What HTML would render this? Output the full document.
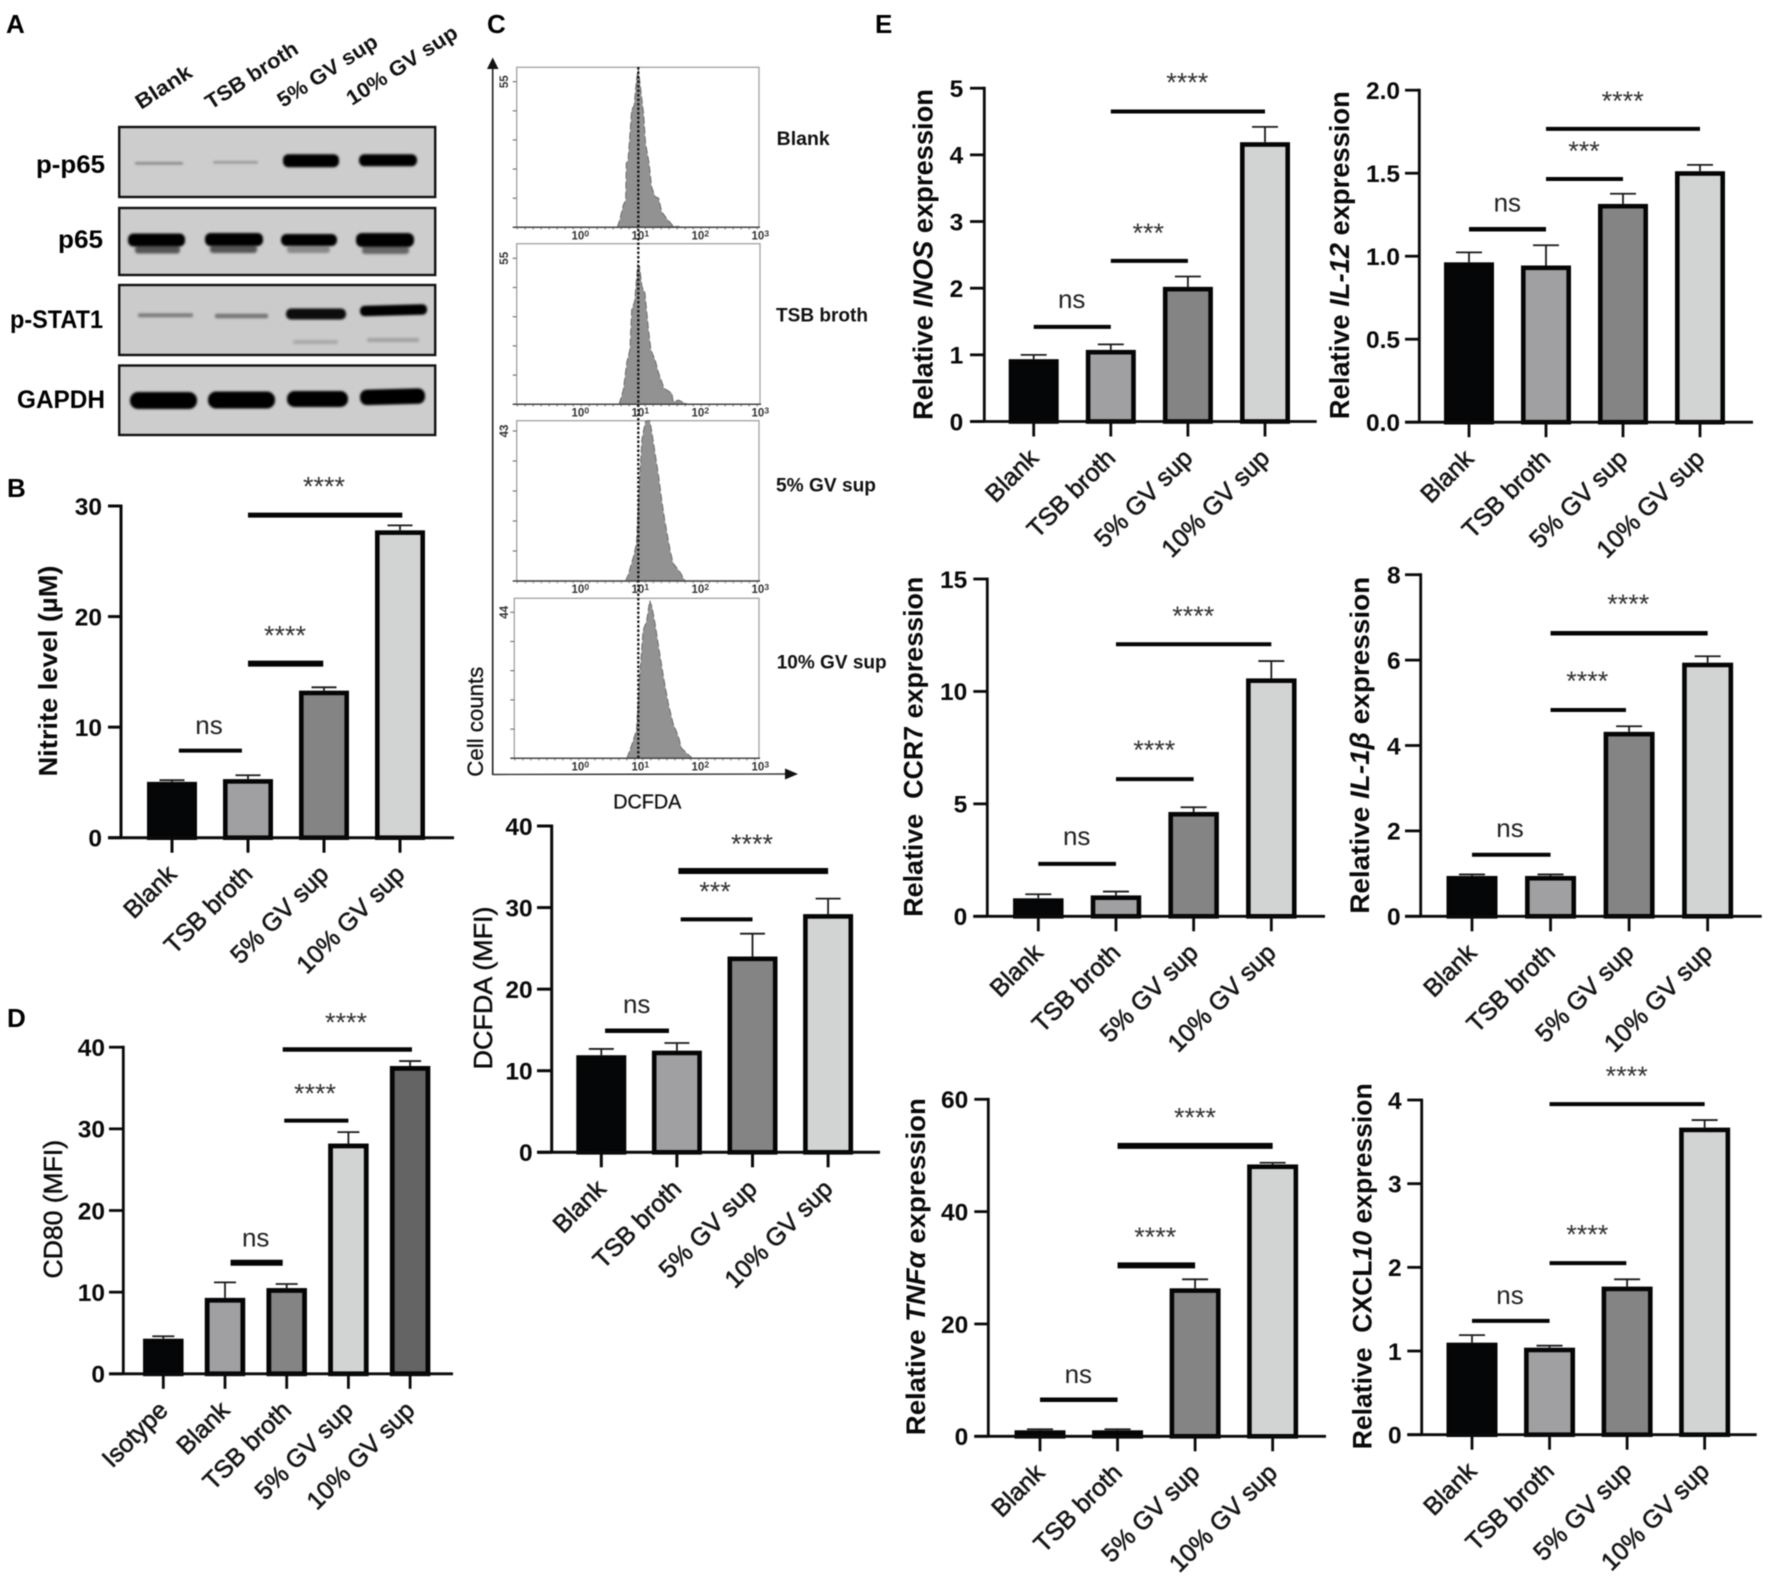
<!DOCTYPE html>
<html lang="en">
<head>
<meta charset="utf-8">
<title>Multi-panel western blot, flow cytometry and bar charts</title>
<style>
html,body{margin:0;padding:0;background:#fff;}
svg{display:block;filter:blur(.5px);}
text{font-family:"Liberation Sans",sans-serif;}
</style>
</head>
<body>
<svg id="figure" xmlns="http://www.w3.org/2000/svg" width="1772" height="1583" viewBox="0 0 1772 1583">
  <defs>
    <filter id="bandBlur" x="-20%" y="-100%" width="140%" height="300%"><feGaussianBlur stdDeviation="1"/></filter>
    <filter id="bandBlurSoft" x="-20%" y="-200%" width="140%" height="500%"><feGaussianBlur stdDeviation="1.4"/></filter>
  </defs>
  <rect width="1772" height="1583" fill="#fff"/>

  <g font-size="26" font-weight="700" fill="#000">
    <text x="6" y="33">A</text>
    <text x="7" y="497">B</text>
    <text x="487" y="33">C</text>
    <text x="7" y="1027">D</text>
    <text x="875" y="33">E</text>
  </g>

  <g>
    <g font-size="21" font-weight="700" fill="#111">
      <text transform="translate(141 110) rotate(-33)" textLength="63" lengthAdjust="spacingAndGlyphs">Blank</text>
      <text transform="translate(211 110) rotate(-33)" textLength="106" lengthAdjust="spacingAndGlyphs">TSB broth</text>
      <text transform="translate(283 108) rotate(-33)" textLength="115" lengthAdjust="spacingAndGlyphs">5% GV sup</text>
      <text transform="translate(352 106) rotate(-33)" textLength="128" lengthAdjust="spacingAndGlyphs">10% GV sup</text>
    </g>
    <g font-size="25" font-weight="700" fill="#000" text-anchor="end">
      <text x="105" y="173" textLength="69" lengthAdjust="spacingAndGlyphs">p-p65</text>
      <text x="103" y="248" textLength="45" lengthAdjust="spacingAndGlyphs">p65</text>
      <text x="103" y="328" textLength="93" lengthAdjust="spacingAndGlyphs">p-STAT1</text>
      <text x="105" y="408" textLength="88" lengthAdjust="spacingAndGlyphs">GAPDH</text>
    </g>
    <g>
      <rect x="119.2" y="127" width="316" height="70" fill="#cdcdcd" stroke="#111" stroke-width="2.4"/>
      <rect x="135" y="162" width="48" height="2.6" rx="1" fill="#8a8a8a" filter="url(#bandBlur)"/>
      <rect x="213" y="161" width="45" height="2.6" rx="1" fill="#999" filter="url(#bandBlur)"/>
      <rect x="283" y="154.2" width="56" height="13" rx="5.5" fill="#050505" filter="url(#bandBlur)"/>
      <rect x="359" y="154.3" width="58" height="12" rx="5.5" fill="#050505" filter="url(#bandBlur)"/>
    </g>
    <g>
      <rect x="119.2" y="208" width="316" height="67" fill="#cdcdcd" stroke="#111" stroke-width="2.4"/>
      <rect x="135" y="245.5" width="45" height="8" rx="3" fill="#555" filter="url(#bandBlurSoft)"/>
      <rect x="210" y="245" width="47" height="8" rx="3" fill="#555" filter="url(#bandBlurSoft)"/>
      <rect x="287" y="246" width="43" height="7" rx="3" fill="#888" filter="url(#bandBlurSoft)"/>
      <rect x="362" y="246" width="47" height="8" rx="3" fill="#666" filter="url(#bandBlurSoft)"/>
      <rect x="128" y="233.5" width="57" height="13" rx="5.5" fill="#050505" filter="url(#bandBlur)"/>
      <rect x="205" y="233" width="58" height="13" rx="5.5" fill="#050505" filter="url(#bandBlur)"/>
      <rect x="281" y="234" width="56" height="12" rx="5.5" fill="#050505" filter="url(#bandBlur)"/>
      <rect x="356" y="233" width="58" height="14" rx="6" fill="#050505" filter="url(#bandBlur)"/>
    </g>
    <g>
      <rect x="119.2" y="285" width="316" height="70" fill="#cbcbcb" stroke="#111" stroke-width="2.4"/>
      <rect x="138" y="313.3" width="55" height="4" rx="1.5" fill="#7e7e7e" filter="url(#bandBlur)"/>
      <rect x="215" y="313.7" width="53" height="4.5" rx="1.5" fill="#777" filter="url(#bandBlur)"/>
      <rect x="286" y="308.5" width="60" height="11" rx="5" fill="#0a0a0a" filter="url(#bandBlur)"/>
      <rect x="360" y="305" width="67" height="10.5" rx="4.5" fill="#000" filter="url(#bandBlur)" transform="rotate(-1.5 393 310)"/>
      <rect x="293" y="340" width="45" height="4" rx="1.5" fill="#a8a8a8" filter="url(#bandBlurSoft)"/>
      <rect x="367" y="338" width="52" height="4" rx="1.5" fill="#a0a0a0" filter="url(#bandBlurSoft)"/>
    </g>
    <g>
      <rect x="119.2" y="365.5" width="316" height="69.5" fill="#cdcdcd" stroke="#111" stroke-width="2.4"/>
      <rect x="130" y="392" width="67" height="17" rx="8" fill="#050505" filter="url(#bandBlur)"/>
      <rect x="208" y="391.5" width="67" height="17" rx="8" fill="#050505" filter="url(#bandBlur)"/>
      <rect x="287" y="391" width="61" height="16" rx="7.5" fill="#050505" filter="url(#bandBlur)"/>
      <rect x="360" y="389" width="65" height="15.5" rx="7" fill="#050505" filter="url(#bandBlur)" transform="rotate(-1.5 392 396)"/>
    </g>
  </g>

  <g>
    <line x1="492.7" y1="775" x2="492.7" y2="66" stroke="#222" stroke-width="1.6"/>
    <polygon points="492.7,57.5 487,69 498.5,69" fill="#111"/>
    <line x1="492.7" y1="774.5" x2="788" y2="774" stroke="#333" stroke-width="1.4"/>
    <polygon points="798,774 785,768.5 785,779.5" fill="#111"/>
    <text x="0" y="0" transform="translate(483 776.7) rotate(-90)" font-size="22" fill="#111" stroke="#111" stroke-width="0.3" textLength="110" lengthAdjust="spacingAndGlyphs">Cell counts</text>
    <text x="613.3" y="808.3" font-size="20" fill="#111" stroke="#111" stroke-width="0.3" textLength="68" lengthAdjust="spacingAndGlyphs">DCFDA</text>
    <g id="flowLayer"></g>
    <line x1="638.3" y1="67" x2="638.3" y2="758" stroke="#111" stroke-width="2.2" stroke-dasharray="2.5 2"/>
    <g font-size="19" font-weight="700" fill="#111">
      <text x="776.7" y="145" textLength="53" lengthAdjust="spacingAndGlyphs">Blank</text>
      <text x="776" y="321.7" textLength="92" lengthAdjust="spacingAndGlyphs">TSB broth</text>
      <text x="776" y="491.7" textLength="100" lengthAdjust="spacingAndGlyphs">5% GV sup</text>
      <text x="776.7" y="668.3" textLength="110" lengthAdjust="spacingAndGlyphs">10% GV sup</text>
    </g>
  </g>

  <g id="chartLayer"></g>
</svg>

<script>
// ---- Shared categories ----
const categoriesFour = ['Blank', 'TSB broth', '5% GV sup', '10% GV sup'];
const categoriesFive = ['Isotype', 'Blank', 'TSB broth', '5% GV sup', '10% GV sup'];

// ---- Panel B: nitrite ----
const nitriteValues = [5.05, 5.3, 13.3, 27.8];
const nitriteErrorTops = [5.2, 5.65, 13.6, 28.25];
const nitriteTicks = [0, 10, 20, 30];
const nitriteTickLabels = ['0', '10', '20', '30'];
const nitriteBrackets = [[0.09, 0.92, 7.87], [1, 1.99, 15.74], [1, 3.03, 29.18]];
const nitriteMarks = ['ns', '****', '****'];

// ---- Panel C: DCFDA MFI ----
const dcfdaValues = [11.9, 12.46, 24.0, 29.2];
const dcfdaErrorTops = [12.67, 13.4, 26.8, 31.1];
const dcfdaTicks = [0, 10, 20, 30, 40];
const dcfdaTickLabels = ['0', '10', '20', '30', '40'];
const dcfdaBrackets = [[0.05, 0.895, 14.9], [1.05, 2, 28.56], [1.02, 3, 34.48]];
const dcfdaMarks = ['ns', '***', '****'];

// ---- Panel D: CD80 MFI ----
const cd80Values = [4.3, 9.3, 10.5, 28.2, 37.7];
const cd80ErrorTops = [4.6, 11.2, 11.0, 29.6, 38.3];
const cd80Ticks = [0, 10, 20, 30, 40];
const cd80TickLabels = ['0', '10', '20', '30', '40'];
const cd80Brackets = [[1.09, 1.935, 13.6], [1.96, 3, 31.0], [1.935, 4.03, 39.72]];
const cd80Marks = ['ns', '****', '****'];

// ---- Panel E: INOS ----
const inosValues = [0.935, 1.074, 2.02, 4.19];
const inosErrorTops = [1.0, 1.157, 2.175, 4.42];
const inosTicks = [0, 1, 2, 3, 4, 5];
const inosTickLabels = ['0', '1', '2', '3', '4', '5'];
const inosBrackets = [[0, 1, 1.42], [1, 2, 2.41], [1, 3, 4.65]];
const inosMarks = ['ns', '***', '****'];

// ---- Panel E: IL-12 ----
const il12Values = [0.963, 0.944, 1.315, 1.512];
const il12ErrorTops = [1.023, 1.066, 1.376, 1.55];
const il12Ticks = [0, 0.5, 1, 1.5, 2];
const il12TickLabels = ['0.0', '0.5', '1.0', '1.5', '2.0'];
const il12Brackets = [[0, 1, 1.162], [1, 2, 1.465], [1, 3, 1.767]];
const il12Marks = ['ns', '***', '****'];

// ---- Panel E: CCR7 ----
const ccr7Values = [0.8, 0.93, 4.64, 10.58];
const ccr7ErrorTops = [0.98, 1.1, 4.85, 11.35];
const ccr7Ticks = [0, 5, 10, 15];
const ccr7TickLabels = ['0', '5', '10', '15'];
const ccr7Brackets = [[0, 1, 2.33], [1, 2, 6.1], [1, 3, 12.1]];
const ccr7Marks = ['ns', '****', '****'];

// ---- Panel E: IL-1 beta ----
const il1bValues = [0.945, 0.945, 4.32, 5.94];
const il1bErrorTops = [0.98, 0.98, 4.45, 6.09];
const il1bTicks = [0, 2, 4, 6, 8];
const il1bTickLabels = ['0', '2', '4', '6', '8'];
const il1bBrackets = [[0, 1, 1.44], [1, 1.96, 4.83], [1, 3, 6.63]];
const il1bMarks = ['ns', '****', '****'];

// ---- Panel E: TNF alpha ----
const tnfValues = [1.07, 1.07, 26.35, 48.4];
const tnfErrorTops = [1.25, 1.25, 27.95, 48.7];
const tnfTicks = [0, 20, 40, 60];
const tnfTickLabels = ['0', '20', '40', '60'];
const tnfBrackets = [[0, 1, 6.5], [1, 2, 30.44], [1, 3, 51.7]];
const tnfMarks = ['ns', '****', '****'];

// ---- Panel E: CXCL10 ----
const cxcl10Values = [1.1, 1.04, 1.77, 3.67];
const cxcl10ErrorTops = [1.19, 1.064, 1.857, 3.76];
const cxcl10Ticks = [0, 1, 2, 3, 4];
const cxcl10TickLabels = ['0', '1', '2', '3', '4'];
const cxcl10Brackets = [[0, 1, 1.36], [1, 1.99, 2.05], [1, 3, 3.95]];
const cxcl10Marks = ['ns', '****', '****'];

// ---- Panel C: flow histograms (log10 intensity, counts) ----
const blankHistLog = [0.65, 0.69, 0.75, 0.79, 0.80, 0.83, 0.89, 0.93, 0.97, 1.0, 1.06, 1.09, 1.12, 1.18, 1.22, 1.28, 1.34, 1.39, 1.47, 1.58, 1.69];
const blankHistCounts = [0, 2.8, 8.4, 10.3, 24.2, 25.5, 44.4, 45.9, 55.7, 60, 48.2, 42.5, 31.8, 24.2, 15.4, 11.6, 11, 5.9, 3.4, 0.5, 0.25];
const tsbHistLog = [0.68, 0.75, 0.81, 0.86, 0.89, 0.94, 0.99, 1.02, 1.06, 1.11, 1.17, 1.21, 1.28, 1.34, 1.43, 1.56, 1.58, 1.67, 1.81];
const tsbHistCounts = [0, 5.4, 16, 20.5, 35.6, 38.8, 52.6, 52, 44.4, 42, 28, 20.5, 16.7, 11.7, 6, 4.2, 1, 1.6, 0.1];
const gv5HistLog = [0.79, 0.83, 0.92, 0.97, 1.01, 1.06, 1.09, 1.12, 1.15, 1.19, 1.22, 1.28, 1.34, 1.39, 1.44, 1.53, 1.58, 1.69, 1.78];
const gv5HistCounts = [0, 1.7, 7, 10.8, 25.5, 40.5, 43.3, 45.7, 46.2, 46.2, 43.3, 36.6, 29.9, 23.2, 17.5, 8.9, 5.1, 2.7, 0];
const gv10HistLog = [0.81, 0.89, 0.97, 1.01, 1.08, 1.14, 1.19, 1.23, 1.28, 1.34, 1.42, 1.5, 1.58, 1.67, 1.72, 1.81, 1.9];
const gv10HistCounts = [0, 4, 8.5, 21.5, 38.5, 41.5, 47.5, 45.5, 40.5, 33.5, 24.5, 16.5, 10.5, 6.5, 3, 1.5, 0];
const flowMaxCounts = [55, 55, 43, 44];
const flowDecades = [0, 1, 2, 3];

// ---- Colours ----
const fillsFour = ['#050607', '#a0a0a3', '#838483', '#d2d4d3'];
const fillsFive = ['#050607', '#a0a0a3', '#838483', '#d2d4d3', '#636463'];

const SVG_NS = 'http://www.w3.org/2000/svg';
function el(tag, attrs, parent) {
  const node = document.createElementNS(SVG_NS, tag);
  Object.keys(attrs).forEach(function (k) { node.setAttribute(k, attrs[k]); });
  parent.appendChild(node);
  return node;
}

const chartLayer = document.getElementById('chartLayer');
const flowLayer = document.getElementById('flowLayer');

const charts = [
  { key: 'nitrite', cats: categoriesFour, fills: fillsFour, values: nitriteValues, errs: nitriteErrorTops, ticks: nitriteTicks, tickLabels: nitriteTickLabels, brackets: nitriteBrackets, marks: nitriteMarks,
    axisX: 121, y0: 837.7, yTop: 506, xStart: 108, xEnd: 454, cat0: 172, step: 76, barW: 50, border: 4.6, labelRight: 102, axisW: 3,
    bracketW: [4, 6, 5], markPos: [[209, 727], [285, 632], [324, 483]], capW: 25,
    title: [['Nitrite level (\u00b5M)', false]], titleCx: 48, titleCy: 671, titleLen: 211, titleSize: 26, titleBold: true },
  { key: 'dcfda', cats: categoriesFour, fills: fillsFour, values: dcfdaValues, errs: dcfdaErrorTops, ticks: dcfdaTicks, tickLabels: dcfdaTickLabels, brackets: dcfdaBrackets, marks: dcfdaMarks,
    axisX: 551.7, y0: 1152.3, yTop: 826, xStart: 537, xEnd: 880, cat0: 601.3, step: 75.6, barW: 50, border: 4.6, labelRight: 532.7, axisW: 3,
    bracketW: [4.5, 4, 6], markPos: [[636.7, 1006], [715, 888], [752, 840.7]], capW: 25,
    title: [['DCFDA (MFI)', false]], titleCx: 483, titleCy: 988, titleLen: 163, titleSize: 26, titleBold: false },
  { key: 'cd80', cats: categoriesFive, fills: fillsFive, values: cd80Values, errs: cd80ErrorTops, ticks: cd80Ticks, tickLabels: cd80TickLabels, brackets: cd80Brackets, marks: cd80Marks,
    axisX: 123.3, y0: 1373.8, yTop: 1047.2, xStart: 109, xEnd: 453, cat0: 163.3, step: 61.7, barW: 40.5, border: 4.8, labelRight: 105, axisW: 2.8,
    bracketW: [6, 4, 4.5], markPos: [[255.7, 1239.5], [315, 1090.2], [346, 1019]], capW: 22,
    title: [['CD80 (MFI)', false]], titleCx: 53, titleCy: 1209.2, titleLen: 138.5, titleSize: 26, titleBold: false },
  { key: 'inos', cats: categoriesFour, fills: fillsFour, values: inosValues, errs: inosErrorTops, ticks: inosTicks, tickLabels: inosTickLabels, brackets: inosBrackets, marks: inosMarks,
    axisX: 984.3, y0: 421.5, yTop: 88.2, xStart: 970, xEnd: 1316.7, cat0: 1033.7, step: 77.1, barW: 50, border: 4.6, labelRight: 963.3, axisW: 2.8,
    bracketW: [4, 4, 4], markPos: [[1071.7, 301.3], [1148.3, 229.7], [1187.3, 79.2]], capW: 26,
    title: [['Relative ', false], ['INOS', true], [' expression', false]], titleCx: 923.3, titleCy: 254.5, titleLen: 331, titleSize: 27.5, titleBold: true },
  { key: 'il12', cats: categoriesFour, fills: fillsFour, values: il12Values, errs: il12ErrorTops, ticks: il12Ticks, tickLabels: il12TickLabels, brackets: il12Brackets, marks: il12Marks,
    axisX: 1419.3, y0: 422.2, yTop: 90.2, xStart: 1405, xEnd: 1753, cat0: 1469, step: 77, barW: 50, border: 4.6, labelRight: 1400, axisW: 2.8,
    bracketW: [4.5, 4, 4], markPos: [[1507.3, 204.9], [1584, 147.4], [1622.7, 97.5]], capW: 26,
    title: [['Relative ', false], ['IL-12', true], [' expression', false]], titleCx: 1340, titleCy: 255.2, titleLen: 328, titleSize: 27.5, titleBold: true },
  { key: 'ccr7', cats: categoriesFour, fills: fillsFour, values: ccr7Values, errs: ccr7ErrorTops, ticks: ccr7Ticks, tickLabels: ccr7TickLabels, brackets: ccr7Brackets, marks: ccr7Marks,
    axisX: 987.3, y0: 916.3, yTop: 579, xStart: 973.3, xEnd: 1325, cat0: 1038.3, step: 77.67, barW: 50.5, border: 4.6, labelRight: 967.3, axisW: 2.8,
    bracketW: [4, 4, 4], markPos: [[1076.7, 838.3], [1154.3, 746.7], [1193.3, 612.3]], capW: 26,
    title: [['Relative\u00a0 CCR7 expression', false]], titleCx: 913.3, titleCy: 746.7, titleLen: 340, titleSize: 27, titleBold: true },
  { key: 'il1b', cats: categoriesFour, fills: fillsFour, values: il1bValues, errs: il1bErrorTops, ticks: il1bTicks, tickLabels: il1bTickLabels, brackets: il1bBrackets, marks: il1bMarks,
    axisX: 1420.7, y0: 916.3, yTop: 574.7, xStart: 1405, xEnd: 1761.7, cat0: 1472, step: 78.55, barW: 51, border: 4.6, labelRight: 1400.7, axisW: 2.8,
    bracketW: [4, 4, 4.5], markPos: [[1510, 830], [1587.3, 677.3], [1628.3, 600.3]], capW: 26,
    title: [['Relative ', false], ['IL-1\u03b2', true], [' expression', false]], titleCx: 1360, titleCy: 745.3, titleLen: 337, titleSize: 27, titleBold: true },
  { key: 'tnf', cats: categoriesFour, fills: fillsFour, values: tnfValues, errs: tnfErrorTops, ticks: tnfTicks, tickLabels: tnfTickLabels, brackets: tnfBrackets, marks: tnfMarks,
    axisX: 988.3, y0: 1436.3, yTop: 1099.3, xStart: 974.3, xEnd: 1326, cat0: 1040, step: 77.55, barW: 51, border: 4.6, labelRight: 968.3, axisW: 2.8,
    bracketW: [4.5, 6, 6], markPos: [[1078.3, 1376], [1155.3, 1233.3], [1195, 1114]], capW: 26,
    title: [['Relative ', false], ['TNF\u03b1', true], [' expression', false]], titleCx: 916, titleCy: 1266.7, titleLen: 337, titleSize: 27, titleBold: true },
  { key: 'cxcl10', cats: categoriesFour, fills: fillsFour, values: cxcl10Values, errs: cxcl10ErrorTops, ticks: cxcl10Ticks, tickLabels: cxcl10TickLabels, brackets: cxcl10Brackets, marks: cxcl10Marks,
    axisX: 1421.7, y0: 1434.7, yTop: 1100, xStart: 1407.3, xEnd: 1756.7, cat0: 1472, step: 77.55, barW: 51, border: 4.6, labelRight: 1401.7, axisW: 2.8,
    bracketW: [4, 4, 4], markPos: [[1510, 1297.3], [1587.3, 1231], [1626.7, 1072.3]], capW: 26,
    title: [['Relative\u00a0 CXCL', false], ['10', true], [' expression', false]], titleCx: 1362.7, titleCy: 1266.3, titleLen: 366, titleSize: 27, titleBold: true }
];

charts.forEach(function (c) {
  const maxTick = c.ticks[c.ticks.length - 1];
  function yScale(v) { return c.y0 - (v / maxTick) * (c.y0 - c.yTop); }
  function xScale(i) { return c.cat0 + i * c.step; }

  const g = el('g', {}, chartLayer);
  
  

  // bars and error bars
  c.values.forEach(function (v, i) {
    const cx = xScale(i);
    const errLine = el('line', { x1: cx, x2: cx, y1: yScale(v), y2: yScale(c.errs[i]), stroke: '#1a1a1a', 'stroke-width': 1.8 }, g);
    
    

    const errCap = el('line', { x1: cx - c.capW / 2, x2: cx + c.capW / 2, y1: yScale(c.errs[i]), y2: yScale(c.errs[i]), stroke: '#1a1a1a', 'stroke-width': 1.8 }, g);
    
    

    const top = yScale(v);
    const b = c.border;
    const bar = el('rect', { x: cx - c.barW / 2 + b / 2, y: top + b / 2, width: c.barW - b, height: Math.max(0, c.y0 - top - b / 2), fill: c.fills[i], stroke: '#050505', 'stroke-width': b }, g);
    
    
  });

  // y axis
  const yAxis = el('line', { x1: c.axisX, x2: c.axisX, y1: c.yTop - c.axisW / 2, y2: c.y0, stroke: '#0a0a0a', 'stroke-width': c.axisW }, g);
  
  

  c.ticks.forEach(function (t, i) {
    const ty = yScale(t);
    const tick = el('line', { x1: c.xStart, x2: c.axisX, y1: ty, y2: ty, stroke: '#0a0a0a', 'stroke-width': c.axisW }, g);
    
    

    const label = el('text', { x: c.labelRight, y: ty + 8.8, 'text-anchor': 'end', 'font-size': 24.5, 'font-weight': 700, fill: '#0a0a0a' }, g);
    label.textContent = c.tickLabels[i];
    
    
  });

  // x axis
  const xAxis = el('line', { x1: c.xStart, x2: c.xEnd, y1: c.y0, y2: c.y0, stroke: '#0a0a0a', 'stroke-width': c.axisW }, g);
  
  

  c.cats.forEach(function (name, i) {
    const tx = xScale(i);
    const tick = el('line', { x1: tx, x2: tx, y1: c.y0, y2: c.y0 + 15, stroke: '#0a0a0a', 'stroke-width': c.axisW }, g);
    
    

    const lx = tx + 6;
    const ly = c.y0 + 38;
    const label = el('text', { x: 0, y: 0, transform: 'translate(' + lx + ' ' + ly + ') rotate(-45)', 'text-anchor': 'end', 'font-size': 25, fill: '#161616', stroke: '#161616', 'stroke-width': 0.6 }, g);
    label.textContent = name;
    
    
  });

  // significance brackets
  c.brackets.forEach(function (br, i) {
    const line = el('line', { x1: xScale(br[0]), x2: xScale(br[1]), y1: yScale(br[2]), y2: yScale(br[2]), stroke: '#050505', 'stroke-width': c.bracketW[i] }, g);
    
    

    const isNs = c.marks[i] === 'ns';
    const pos = c.markPos[i];
    const mark = el('text', { x: pos[0], y: pos[1] + (isNs ? 6.8 : 12.5), 'text-anchor': 'middle', 'font-size': isNs ? 26 : 27, fill: isNs ? '#222' : '#333' }, g);
    mark.textContent = c.marks[i];
    
    
  });

  // y axis title
  const tx = c.titleCx + 9;
  const title = el('text', { x: 0, y: 0, transform: 'translate(' + tx + ' ' + c.titleCy + ') rotate(-90)', 'text-anchor': 'middle', 'font-size': c.titleSize, 'font-weight': c.titleBold ? 700 : 400, fill: '#0a0a0a', textLength: c.titleLen, lengthAdjust: 'spacingAndGlyphs' }, g);
  
  
  if (!c.titleBold) { title.setAttribute('stroke', '#111'); title.setAttribute('stroke-width', '0.5'); }
  c.title.forEach(function (part) {
    const span = el('tspan', part[1] ? { 'font-style': 'italic' } : {}, title);
    span.textContent = part[0];
  });
});

// ---- Flow cytometry histograms ----
const flowFrames = [
  { key: 'blank', logs: blankHistLog, counts: blankHistCounts, left: 516.7, right: 759, top: 67.3, base: 227.3, topTickY: 81.7 },
  { key: 'tsb-broth', logs: tsbHistLog, counts: tsbHistCounts, left: 516.7, right: 760, top: 243.7, base: 404.3, topTickY: 258.3 },
  { key: '5-percent', logs: gv5HistLog, counts: gv5HistCounts, left: 516.7, right: 759, top: 420.7, base: 581, topTickY: 431 },
  { key: '10-percent', logs: gv10HistLog, counts: gv10HistCounts, left: 514.3, right: 759, top: 598.3, base: 758.3, topTickY: 612.3 }
];

function flowX(logValue) { return 578.3 + logValue * 60; }

flowFrames.forEach(function (f, idx) {
  const maxCount = flowMaxCounts[idx];
  function flowY(count) { return Math.max(f.top, f.base - (count / maxCount) * (f.base - f.topTickY)); }

  const g = el('g', {}, flowLayer);
  
  

  const frame = el('rect', { x: f.left, y: f.top, width: f.right - f.left, height: f.base - f.top, fill: '#fff', stroke: '#a8a8a8', 'stroke-width': 1.4 }, g);
  
  

  let d = '';
  f.logs.forEach(function (lv, i) {
    d += (i === 0 ? 'M' : 'L') + flowX(lv).toFixed(1) + ' ' + flowY(f.counts[i]).toFixed(1);
  });
  d += 'Z';
  const hist = el('path', { d: d, fill: '#929292', stroke: '#6a6a6a', 'stroke-width': 1, 'stroke-dasharray': '7 3' }, g);
  
  

  const base = el('line', { x1: f.left - 4, x2: f.right + 1, y1: f.base, y2: f.base, stroke: '#444', 'stroke-width': 1.5 }, g);
  
  

  const minor = el('line', { x1: f.left, x2: f.right, y1: f.base + 1.5, y2: f.base + 1.5, stroke: '#777', 'stroke-width': 1.5, 'stroke-dasharray': '1 7' }, g);
  
  

  flowDecades.forEach(function (dec) {
    const lbl = el('text', { x: flowX(dec) + 2, y: f.base + 12, 'text-anchor': 'middle', 'font-size': 11.5, 'font-weight': 700, fill: '#333' }, g);
    
    
    const baseSpan = el('tspan', {}, lbl);
    baseSpan.textContent = '10';
    const expSpan = el('tspan', { dy: -3, 'font-size': 8.5 }, lbl);
    expSpan.textContent = String(dec);
  });

  for (let k = 1; k <= 5; k++) {
    const ty = flowY(maxCount * k / 5);
    const tick = el('line', { x1: f.left - 4, x2: f.left, y1: ty, y2: ty, stroke: '#777', 'stroke-width': 1.2 }, g);
    
    
  }

  const yLbl = el('text', { x: 0, y: 0, transform: 'translate(508 ' + f.topTickY + ') rotate(-90)', 'text-anchor': 'middle', 'font-size': 11.5, 'font-weight': 700, fill: '#333' }, g);
  yLbl.textContent = String(maxCount);
  
  
});
</script>
</body>
</html>
